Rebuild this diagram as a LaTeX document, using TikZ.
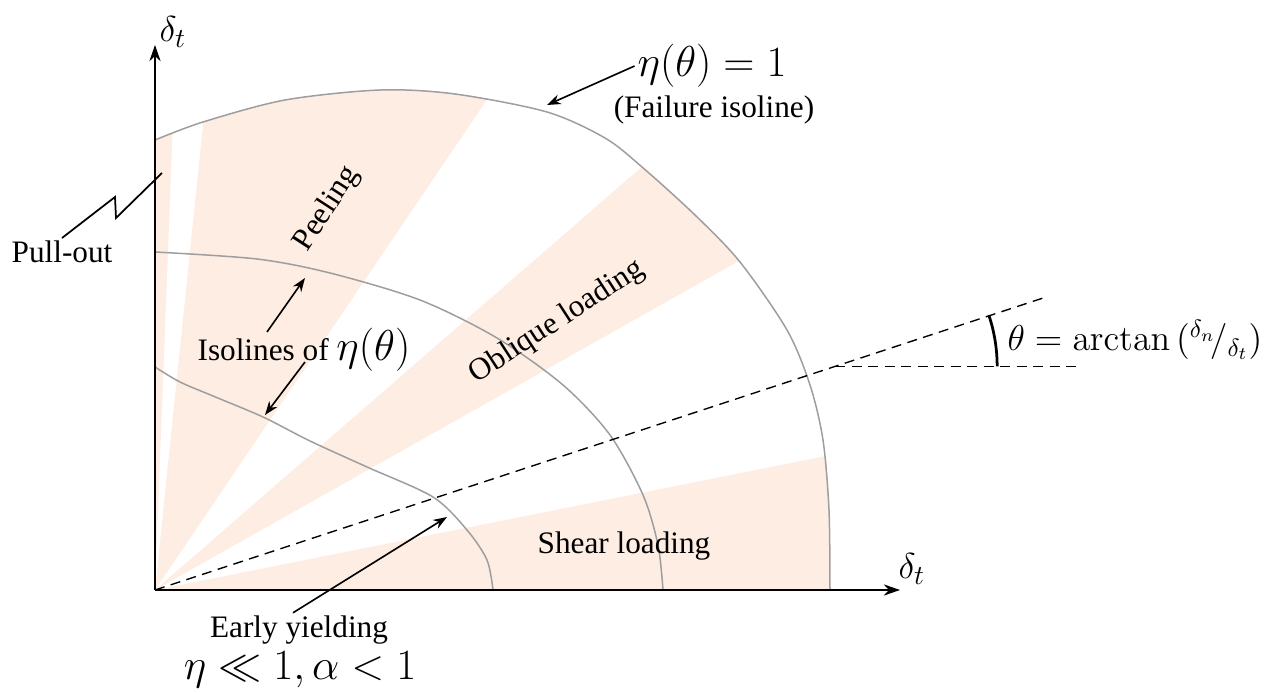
\documentclass[tikz,border=0pt]{standalone}
\usepackage[no-math]{fontspec}
\setmainfont{Liberation Serif}
\usetikzlibrary{arrows.meta, calc}
\definecolor{wedgefill}{RGB}{253,237,227}
\definecolor{isogray}{RGB}{158,158,158}

\begin{document}
\begin{tikzpicture}[
    x=0.4pt, y=0.4pt,
    isoline/.style={draw=isogray, line width=0.6pt},
    wedge/.style={fill=wedgefill},
    axis/.style={line width=0.8pt, -{Stealth[length=6.5pt, width=4.5pt]}},
    pointer/.style={line width=0.65pt, -{Stealth[length=5.5pt, width=4pt]}},
    guide/.style={line width=0.55pt, dash pattern=on 4pt off 2.6pt},
    txt/.style={font=\fontsize{12.5}{15}\selectfont, inner sep=1pt},
    bigmath/.style={font=\fontsize{17}{20}\selectfont, inner sep=1pt},
]
    \useasboundingbox (-155,-103) rectangle (1113,590);
    \coordinate (O) at (0,0);

    % loading sectors, cut off at the failure isoline
    \begin{scope}
      \clip (O) -- plot[smooth] coordinates {(0,450) (48,468) (130,490) (225,500)
        (300,496) (392,478) (450,452) (487,423) (540,375) (585,328) (632,260)
        (655,205) (668,150) (674,80) (675,0)} -- cycle;
      \fill[wedge] (O) -- (0:900) -- (11.3:900) -- cycle;
      \fill[wedge] (O) -- (29.4:900) -- (41.0:900) -- cycle;
      \fill[wedge] (O) -- (55.9:900) -- (84.1:900) -- cycle;
      \fill[wedge] (O) -- (87.8:900) -- (90:900) -- cycle;
    \end{scope}

    % isolines of eta
    \draw[isoline] plot[smooth] coordinates {(0,450) (48,468) (130,490) (225,500)
        (300,496) (392,478) (450,452) (487,423) (540,375) (585,328) (632,260)
        (655,205) (668,150) (674,80) (675,0)};
    \draw[isoline] plot[smooth] coordinates {(0,338) (102,331) (175,317) (265,290)
        (342,252) (408,205) (455,155) (488,95) (503,45) (508,0)};
    \draw[isoline] plot[smooth] coordinates {(0,223) (25,208) (58,194) (108,173)
        (155,149) (212,123) (278,93) (312,60) (332,30) (338,0)};

    % loading direction and angle
    \coordinate (rayend) at (18.2:937);
    \coordinate (P) at (18.2:716);
    \coordinate (hend) at ($(P)+(245,0)$);
    \draw[guide] (O) -- (rayend);
    \draw[guide] (P) -- (hend);
    \draw[line width=1.1pt] ($(P)+(162,0)$) arc[start angle=0, end angle=18.2, radius=162];
    \node[font=\fontsize{14}{16}\selectfont, anchor=west, inner sep=0pt] (anglelbl) at (852,250)
      {$\theta = \arctan\,({}^{\delta_n}\!/{}_{\delta_t})$};

    % axes
    \coordinate (ytip) at (0,545);
    \coordinate (xtip) at (745,0);
    \draw[axis] (O) -- (ytip);
    \draw[axis] (O) -- (xtip);
    \node[font=\fontsize{15}{18}\selectfont] (ylbl) at (18,558) {$\delta_t$};
    \node[font=\fontsize{15}{18}\selectfont] (xlbl) at (757,21) {$\delta_t$};

    % sector names
    \node[txt, rotate=57] (peel) at (172,381) {Peeling};
    \node[txt, rotate=33] (obl) at (402,268) {Oblique loading};
    \node[txt] (shear) at (469,44) {Shear loading};

    % pull-out
    \node[txt] (pullout) at (-93,338) {Pull-out};
    \coordinate (crack) at (7,417);
    \draw[line width=0.7pt] (pullout.north) -- (-40,393) -- (-39,372) -- (crack);

    % annotations
    \node[bigmath] (failtxt) at (557,524) {$\eta(\theta) = 1$};
    \node[txt] (failsub) at (559,480) {(Failure isoline)};
    \coordinate (failtip) at (392,485);
    \draw[pointer] (failtxt.west) -- (failtip);

    \node[txt] (isolbl) at (149,240) {Isolines of {\fontsize{17}{20}\selectfont$\eta(\theta)$}};
    \coordinate (isotipA) at (150,312);
    \coordinate (isotipB) at (110,175);
    \draw[pointer] ($(isolbl)+(-37,18)$) -- (isotipA);
    \draw[pointer] ($(isolbl)+(1,-12)$) -- (isotipB);

    \node[txt] (early) at (144,-40) {Early yielding};
    \node[bigmath] (earlymath) at (145,-80) {$\eta \ll 1, \alpha < 1$};
    \coordinate (yieldtip) at (292,73);
    \draw[pointer] ($(early.north)+(-6,0)$) -- (yieldtip);
\end{tikzpicture}
\end{document}
